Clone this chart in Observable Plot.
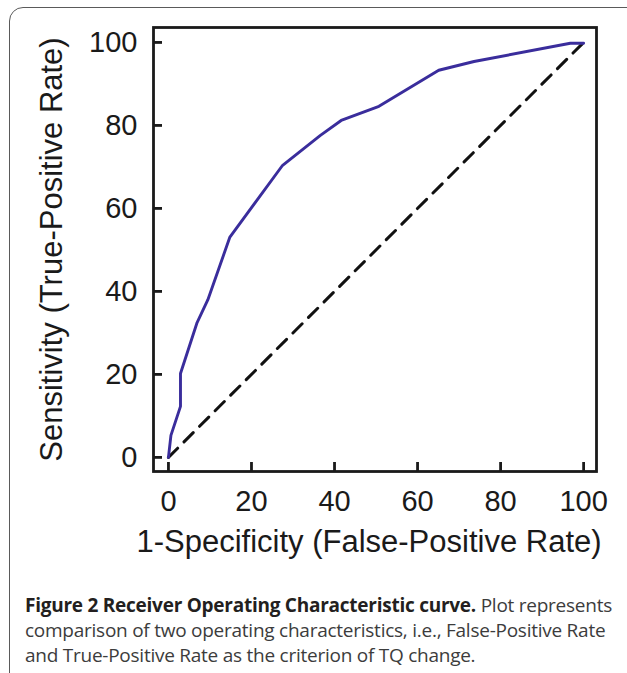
<!DOCTYPE html>
<html><head><meta charset="utf-8">
<script src="https://cdn.jsdelivr.net/npm/d3@7"></script>
<script src="https://cdn.jsdelivr.net/npm/@observablehq/plot@0.6"></script>
<style>
html,body{margin:0;padding:0;background:#fff;overflow:hidden;width:627px;height:673px;}
#wrap{position:relative;width:627px;height:673px;overflow:hidden;}
#border{position:absolute;left:9px;top:7px;width:700px;height:800px;border:1.5px solid #5a5a5a;border-radius:14px;box-sizing:border-box;}
#chart{position:absolute;left:0;top:0;}
#caption{position:absolute;left:25px;top:593px;font-family:"Open Sans",sans-serif;font-size:19px;line-height:25px;color:#3c3c3c;white-space:nowrap;letter-spacing:-0.25px;}
#caption b{color:#231f20;font-weight:700;}
</style></head>
<body>
<div id="wrap">
  <div id="border"></div>
  <div id="chart"></div>
  <div id="caption"><b>Figure 2 Receiver Operating Characteristic curve.</b> Plot represents<br>comparison of two operating characteristics, i.e., False-Positive Rate<br>and True-Positive Rate as the criterion of TQ change.</div>
</div>
<script>
// ROC curve values (percent)
const fpr = [0, 0.6, 2.9, 2.9, 6.9, 9.5, 14.8, 27.5, 36.6, 41.6, 50.7, 65.1, 73.6, 96.8, 100];
const tpr = [0, 5.3, 12.3, 20.2, 32.5, 38.0, 53.1, 70.4, 77.6, 81.2, 84.6, 93.3, 95.4, 99.8, 99.8];
// chance diagonal
const diagX = [0, 100];
const diagY = [0, 100];
// ticks and labels
const xTicks = [0, 20, 40, 60, 80, 100];
const yTicks = [0, 20, 40, 60, 80, 100];
const xLabel = "1-Specificity (False-Positive Rate)";
const yLabel = "Sensitivity (True-Positive Rate)";

const curve = fpr.map((x, i) => ({x, y: tpr[i]}));
const diag = diagX.map((x, i) => ({x, y: diagY[i]}));

const chart = Plot.plot({
  width: 627, height: 575,
  marginLeft: 153, marginRight: 31, marginTop: 27, marginBottom: 104,
  style: {fontFamily: "'Liberation Sans', Arial, sans-serif", fontSize: "29px", color: "#1a1a1a", background: "transparent"},
  x: {domain: [-3.6, 103.1]},
  y: {domain: [-3.4, 103.6]},
  marks: [
    Plot.line(diag, {x: "x", y: "y", stroke: "#111", strokeWidth: 3, strokeDasharray: "13,9"}),
    Plot.line(curve, {x: "x", y: "y", stroke: "#3a2d9c", strokeWidth: 2.9}),
    Plot.frame({stroke: "#1a1a1a", strokeWidth: 2.8}),
    Plot.axisX(xTicks, {tickSize: -9, tickPadding: 28, strokeWidth: 2.8, fontSize: 29, label: null}),
    Plot.axisY(yTicks, {tickSize: -9, tickPadding: 25, strokeWidth: 2.8, fontSize: 29, label: null}),
    Plot.text([xLabel], {text: d => d, frameAnchor: "bottom", textAnchor: "middle", dy: 80, dx: -6, fontSize: 31, fill: "#1a1a1a"}),
    Plot.text([yLabel], {text: d => d, frameAnchor: "left", textAnchor: "middle", dx: -101, rotate: -90, fontSize: 31, fill: "#1a1a1a"})
  ]
});
document.getElementById("chart").appendChild(chart);
</script>
</body></html>
